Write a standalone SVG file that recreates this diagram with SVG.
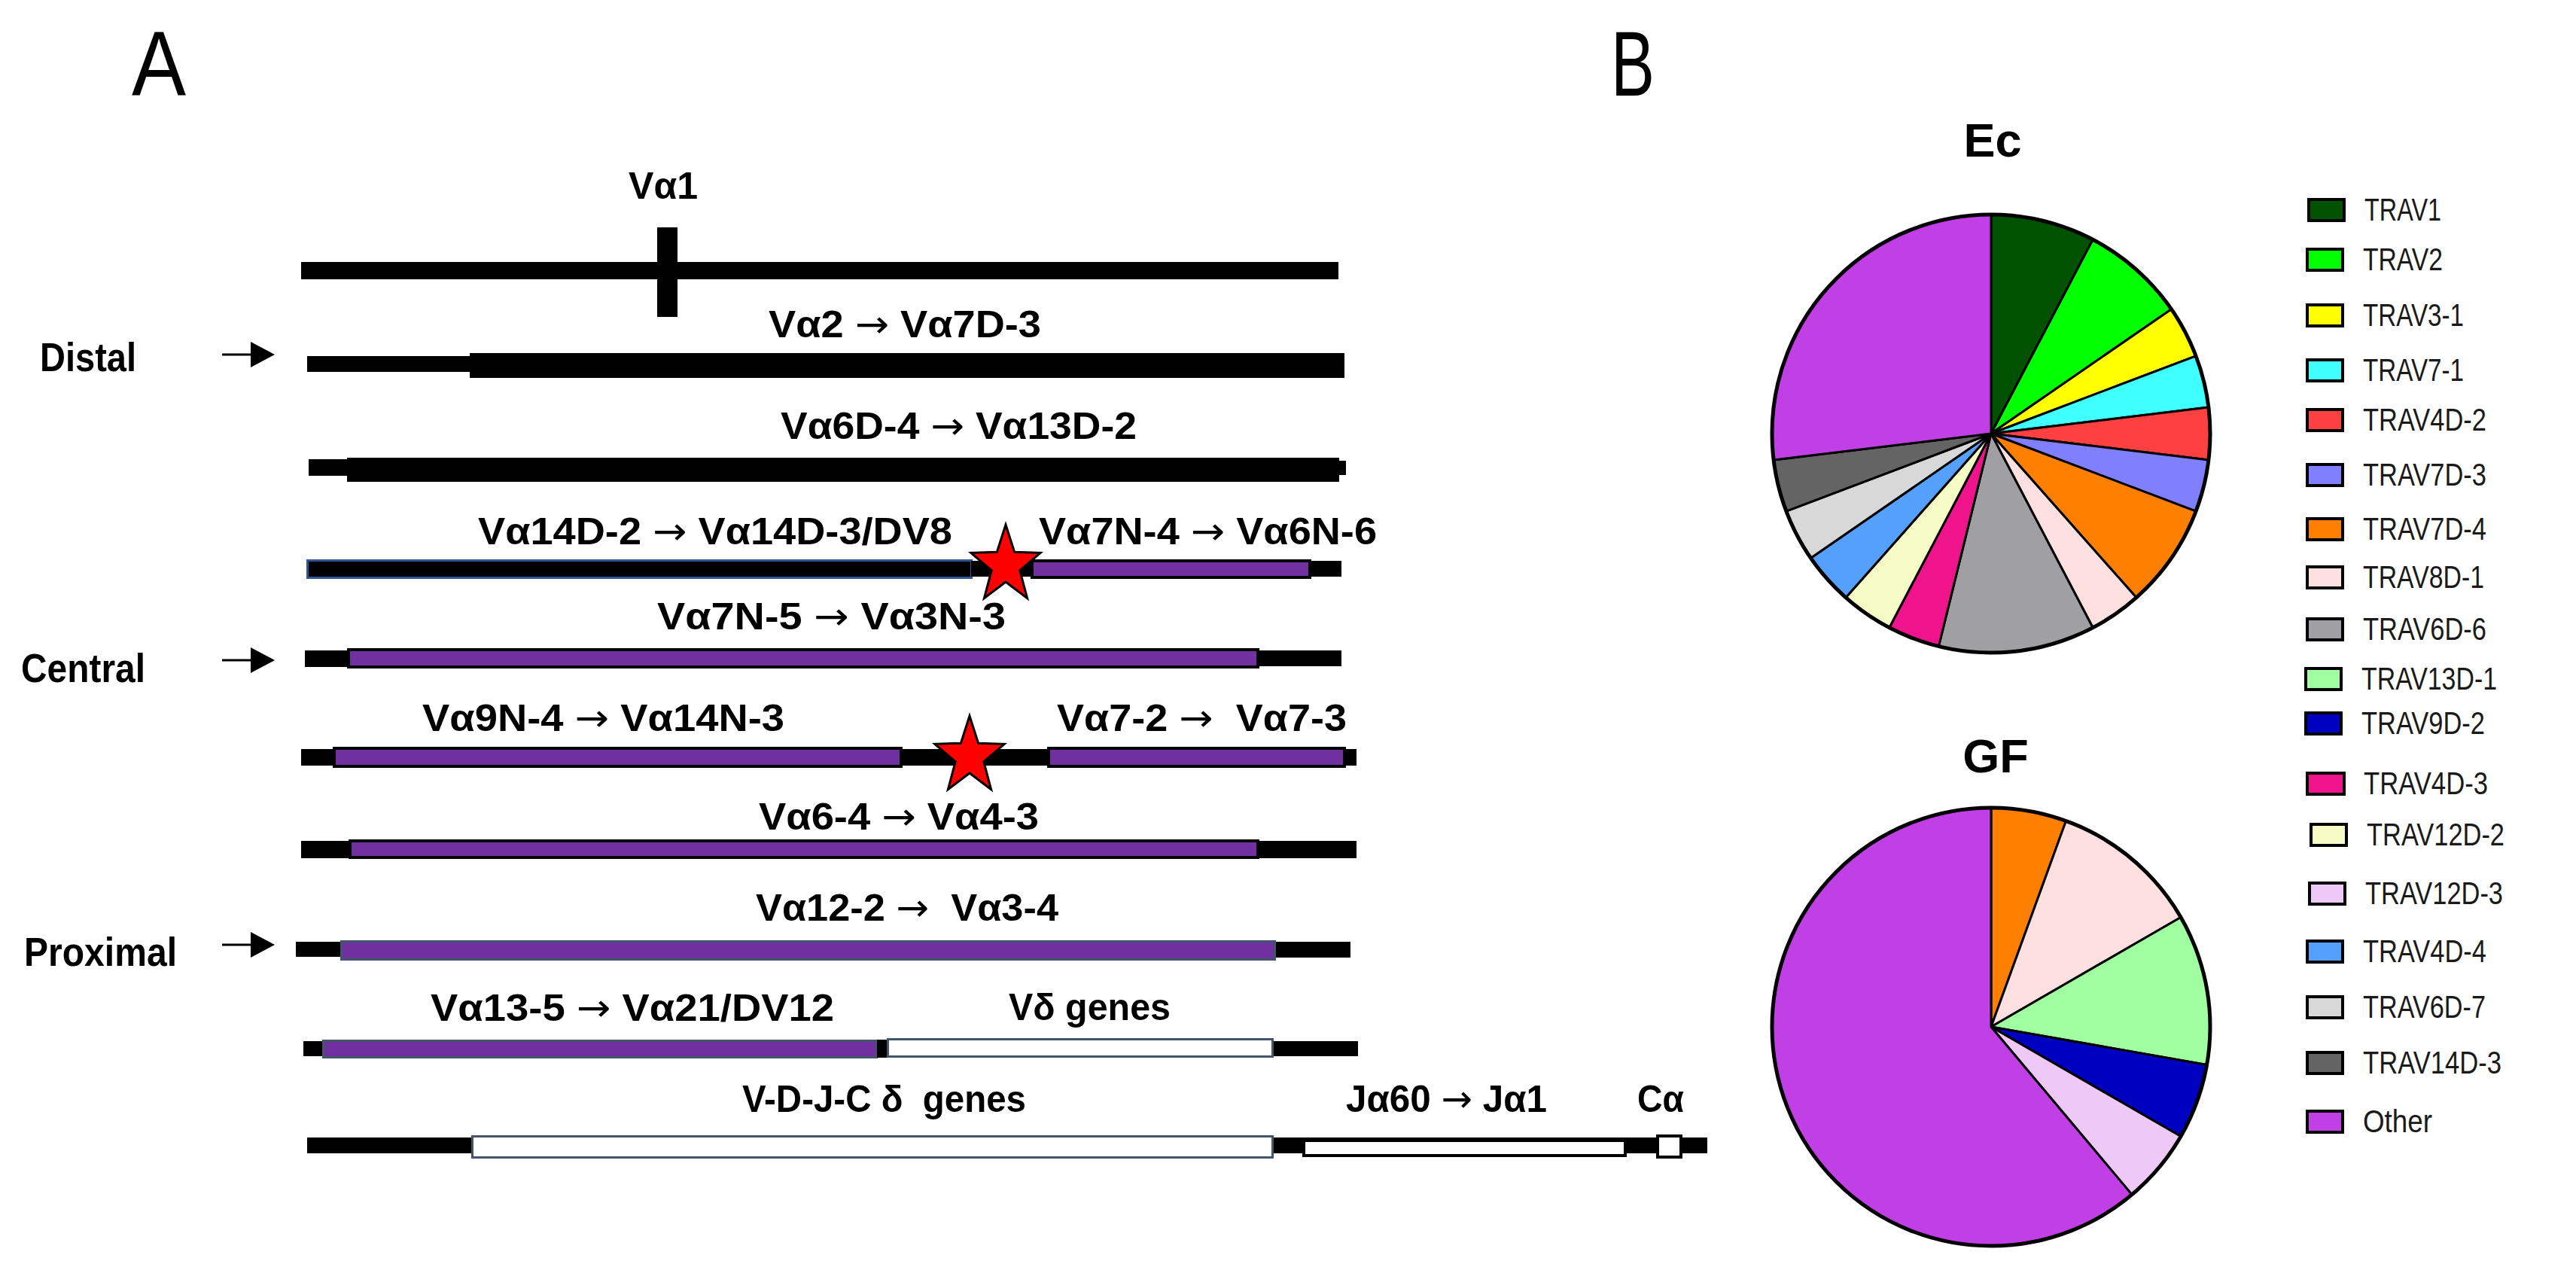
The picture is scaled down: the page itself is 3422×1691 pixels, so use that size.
<svg xmlns="http://www.w3.org/2000/svg" width="3422" height="1691" viewBox="0 0 3422 1691">
<style>
.lbl{font-family:"Liberation Sans",Arial,sans-serif;font-weight:bold;font-size:50px;fill:#000}
.ar{font-family:"DejaVu Sans",sans-serif;font-weight:normal}
.side{font-family:"Liberation Sans",Arial,sans-serif;font-weight:bold;font-size:53px;fill:#000}
.panel{font-family:"Liberation Sans",Arial,sans-serif;font-size:122px;fill:#000}
.ttl{font-family:"Liberation Sans",Arial,sans-serif;font-weight:bold;font-size:63px;fill:#000;text-anchor:middle}
.leg{font-family:"Liberation Sans",Arial,sans-serif;font-size:43px;fill:#1a1a1a}
.blk{fill:#000}
.pur{fill:#7030A0;stroke:#000;stroke-width:4}
.pur2{fill:#7030A0;stroke:#44546A;stroke-width:3}
.wht{fill:#fff;stroke:#44546A;stroke-width:3}
.whk{fill:#fff;stroke:#000;stroke-width:4}
.star{fill:#FF0000;stroke:#000;stroke-width:3;stroke-linejoin:miter}
.sl{stroke:#000;stroke-width:3;stroke-linejoin:round}
.lb{stroke:#000;stroke-width:4}
</style>
<defs>
<path id="starShape" d="M0,-54 L11.6,-17.8 L46.2,-16.7 L18.8,6.8 L28.6,43.7 L0,22 L-28.6,43.7 L-18.8,6.8 L-46.2,-16.7 L-11.6,-17.8 Z"/>
<marker id="ah" markerUnits="userSpaceOnUse" markerWidth="32" markerHeight="34" refX="2" refY="17" orient="auto">
<path d="M0,0 L32,17 L0,34 Z" fill="#000"/>
</marker>
</defs>
<rect x="0" y="0" width="3422" height="1691" fill="#fff"/>

<text class="panel" x="175" y="127" textLength="72" lengthAdjust="spacingAndGlyphs">A</text>
<text class="panel" x="2140" y="127" textLength="58" lengthAdjust="spacingAndGlyphs">B</text>

<g id="side-labels">
<text class="side" x="53" y="493" textLength="128" lengthAdjust="spacingAndGlyphs">Distal</text>
<text class="side" x="28" y="906" textLength="165" lengthAdjust="spacingAndGlyphs">Central</text>
<text class="side" x="32" y="1283" textLength="203" lengthAdjust="spacingAndGlyphs">Proximal</text>
</g>

<g id="connectors">
<line x1="295" y1="471" x2="335" y2="471" stroke="#000" stroke-width="3" marker-end="url(#ah)"/>
<line x1="295" y1="877" x2="335" y2="877" stroke="#000" stroke-width="3" marker-end="url(#ah)"/>
<line x1="295" y1="1255" x2="335" y2="1255" stroke="#000" stroke-width="3" marker-end="url(#ah)"/>
</g>

<g id="row1">
<rect class="blk" x="400" y="348" width="1378" height="23"/>
<rect class="blk" x="873" y="302" width="27" height="119"/>
<text class="lbl" x="835" y="264" textLength="92" lengthAdjust="spacingAndGlyphs">Vα1</text>
</g>

<g id="row2">
<rect class="blk" x="408" y="473" width="216" height="21"/>
<rect class="blk" x="624" y="469" width="1162" height="33"/>
<text class="lbl" x="1021" y="448" textLength="362" lengthAdjust="spacingAndGlyphs">Vα2 <tspan class="ar">→</tspan> Vα7D-3</text>
</g>

<g id="row3">
<rect class="blk" x="410" y="610" width="51" height="22"/>
<rect class="blk" x="461" y="608" width="1318" height="32"/>
<rect class="blk" x="1779" y="612" width="9" height="19"/>
<text class="lbl" x="1037" y="583" textLength="473" lengthAdjust="spacingAndGlyphs">Vα6D-4 <tspan class="ar">→</tspan> Vα13D-2</text>
</g>

<g id="row4">
<rect x="408.5" y="744.5" width="882" height="23" fill="#000" stroke="#2F5597" stroke-width="3"/>
<rect class="blk" x="1290" y="745" width="82" height="21"/>
<rect class="pur" x="1371" y="745" width="369" height="22"/>
<rect class="blk" x="1740" y="745" width="42" height="21"/>
<use href="#starShape" class="star" transform="translate(1336,751)"/>
<text class="lbl" x="635" y="723" textLength="630" lengthAdjust="spacingAndGlyphs">Vα14D-2 <tspan class="ar">→</tspan> Vα14D-3/DV8</text>
<text class="lbl" x="1380" y="723" textLength="449" lengthAdjust="spacingAndGlyphs">Vα7N-4 <tspan class="ar">→</tspan> Vα6N-6</text>
</g>

<g id="row5">
<rect class="blk" x="405" y="864" width="58" height="22"/>
<rect class="pur" x="463" y="863" width="1208" height="23"/>
<rect class="blk" x="1671" y="864" width="111" height="21"/>
<text class="lbl" x="873" y="836" textLength="463" lengthAdjust="spacingAndGlyphs">Vα7N-5 <tspan class="ar">→</tspan> Vα3N-3</text>
</g>

<g id="row6">
<rect class="blk" x="400" y="995" width="44" height="22"/>
<rect class="pur" x="444" y="994" width="753" height="24"/>
<rect class="blk" x="1197" y="995" width="196" height="22"/>
<rect class="pur" x="1393" y="994" width="393" height="24"/>
<rect class="blk" x="1786" y="995" width="16" height="22"/>
<use href="#starShape" class="star" transform="translate(1288,1005)"/>
<text class="lbl" x="561" y="971" textLength="481" lengthAdjust="spacingAndGlyphs">Vα9N-4 <tspan class="ar">→</tspan> Vα14N-3</text>
<text class="lbl" x="1404" y="971" textLength="385" lengthAdjust="spacingAndGlyphs" xml:space="preserve">Vα7-2 <tspan class="ar">→</tspan>  Vα7-3</text>
</g>

<g id="row7">
<rect class="blk" x="400" y="1117" width="65" height="23"/>
<rect class="pur" x="465" y="1117" width="1206" height="22"/>
<rect class="blk" x="1671" y="1117" width="131" height="23"/>
<text class="lbl" x="1008" y="1102" textLength="372" lengthAdjust="spacingAndGlyphs">Vα6-4 <tspan class="ar">→</tspan> Vα4-3</text>
</g>

<g id="row8">
<rect class="blk" x="393" y="1251" width="61" height="20"/>
<rect class="pur2" x="453.5" y="1250.5" width="1240" height="24"/>
<rect class="blk" x="1695" y="1251" width="99" height="21"/>
<text class="lbl" x="1004" y="1223" textLength="402" lengthAdjust="spacingAndGlyphs" xml:space="preserve">Vα12-2 <tspan class="ar">→</tspan>  Vα3-4</text>
</g>

<g id="row9">
<rect class="blk" x="403" y="1383" width="27" height="20"/>
<rect class="pur2" x="429.5" y="1382.5" width="735" height="22"/>
<rect class="blk" x="1165" y="1381" width="13" height="24"/>
<rect class="wht" x="1179.5" y="1380.5" width="511" height="23"/>
<rect class="blk" x="1692" y="1383" width="112" height="20"/>
<text class="lbl" x="572" y="1356" textLength="536" lengthAdjust="spacingAndGlyphs">Vα13-5 <tspan class="ar">→</tspan> Vα21/DV12</text>
<text class="lbl" x="1340" y="1355" textLength="215" lengthAdjust="spacingAndGlyphs">Vδ genes</text>
</g>

<g id="row10">
<rect class="blk" x="408" y="1511" width="220" height="21"/>
<rect class="wht" x="627.5" y="1509.5" width="1063" height="28"/>
<rect class="blk" x="1692" y="1511" width="576" height="21"/>
<rect class="whk" x="1732" y="1515" width="427" height="20"/>
<rect class="whk" x="2202" y="1509" width="31" height="28"/>
<text class="lbl" x="986" y="1477" textLength="377" lengthAdjust="spacingAndGlyphs" xml:space="preserve">V-D-J-C δ  genes</text>
<text class="lbl" x="1788" y="1477" textLength="267" lengthAdjust="spacingAndGlyphs">Jα60 <tspan class="ar">→</tspan> Jα1</text>
<text class="lbl" x="2175" y="1477" textLength="62" lengthAdjust="spacingAndGlyphs">Cα</text>
</g>

<g id="pie-ec">
<text class="ttl" x="2647" y="208">Ec</text>
<path class="sl" fill="#005200" d="M2645,576 L2645,285 A291,291 0 0 1 2780.2,318.3 Z"/>
<path class="sl" fill="#00FF00" d="M2645,576 L2780.2,318.3 A291,291 0 0 1 2884.5,410.7 Z"/>
<path class="sl" fill="#FFFF00" d="M2645,576 L2884.5,410.7 A291,291 0 0 1 2917.1,472.8 Z"/>
<path class="sl" fill="#40FFFF" d="M2645,576 L2917.1,472.8 A291,291 0 0 1 2933.9,540.9 Z"/>
<path class="sl" fill="#FF4040" d="M2645,576 L2933.9,540.9 A291,291 0 0 1 2933.9,611.1 Z"/>
<path class="sl" fill="#8080FF" d="M2645,576 L2933.9,611.1 A291,291 0 0 1 2917.1,679.2 Z"/>
<path class="sl" fill="#FF8000" d="M2645,576 L2917.1,679.2 A291,291 0 0 1 2838.0,793.8 Z"/>
<path class="sl" fill="#FFE0E0" d="M2645,576 L2838.0,793.8 A291,291 0 0 1 2780.2,833.7 Z"/>
<path class="sl" fill="#A0A0A4" d="M2645,576 L2780.2,833.7 A291,291 0 0 1 2575.4,858.5 Z"/>
<path class="sl" fill="#F0148C" d="M2645,576 L2575.4,858.5 A291,291 0 0 1 2509.8,833.7 Z"/>
<path class="sl" fill="#F6FCC6" d="M2645,576 L2509.8,833.7 A291,291 0 0 1 2452.0,793.8 Z"/>
<path class="sl" fill="#55A0FA" d="M2645,576 L2452.0,793.8 A291,291 0 0 1 2405.5,741.3 Z"/>
<path class="sl" fill="#D8D8D8" d="M2645,576 L2405.5,741.3 A291,291 0 0 1 2372.9,679.2 Z"/>
<path class="sl" fill="#646464" d="M2645,576 L2372.9,679.2 A291,291 0 0 1 2356.1,611.1 Z"/>
<path class="sl" fill="#C040E6" d="M2645,576 L2356.1,611.1 A291,291 0 0 1 2645,285 Z"/>
<circle cx="2645" cy="576" r="291" fill="none" stroke="#000" stroke-width="5"/>
</g>

<g id="pie-gf">
<text class="ttl" x="2651" y="1026">GF</text>
<path class="sl" fill="#FF8000" d="M2645,1364 L2645,1073 A291,291 0 0 1 2744.5,1090.5 Z"/>
<path class="sl" fill="#FFE0E0" d="M2645,1364 L2744.5,1090.5 A291,291 0 0 1 2897.0,1218.5 Z"/>
<path class="sl" fill="#A0FFA0" d="M2645,1364 L2897.0,1218.5 A291,291 0 0 1 2931.6,1414.5 Z"/>
<path class="sl" fill="#0000C0" d="M2645,1364 L2931.6,1414.5 A291,291 0 0 1 2897.0,1509.5 Z"/>
<path class="sl" fill="#EEC8F6" d="M2645,1364 L2897.0,1509.5 A291,291 0 0 1 2832.1,1586.9 Z"/>
<path class="sl" fill="#C040E6" d="M2645,1364 L2832.1,1586.9 A291,291 0 1 1 2645,1073 Z"/>
<circle cx="2645" cy="1364" r="291" fill="none" stroke="#000" stroke-width="5"/>
</g>

<g id="legend">
<rect class="lb" fill="#005200" x="3067" y="265" width="47" height="28"/>
<text class="leg" x="3141" y="293" textLength="102" lengthAdjust="spacingAndGlyphs">TRAV1</text>
<rect class="lb" fill="#00FF00" x="3065" y="331" width="47" height="28"/>
<text class="leg" x="3139" y="359" textLength="106" lengthAdjust="spacingAndGlyphs">TRAV2</text>
<rect class="lb" fill="#FFFF00" x="3065" y="405" width="47" height="28"/>
<text class="leg" x="3139" y="433" textLength="134" lengthAdjust="spacingAndGlyphs">TRAV3-1</text>
<rect class="lb" fill="#40FFFF" x="3065" y="478" width="47" height="28"/>
<text class="leg" x="3139" y="506" textLength="134" lengthAdjust="spacingAndGlyphs">TRAV7-1</text>
<rect class="lb" fill="#FF4040" x="3065" y="544" width="47" height="28"/>
<text class="leg" x="3139" y="572" textLength="164" lengthAdjust="spacingAndGlyphs">TRAV4D-2</text>
<rect class="lb" fill="#8080FF" x="3065" y="617" width="47" height="28"/>
<text class="leg" x="3139" y="645" textLength="164" lengthAdjust="spacingAndGlyphs">TRAV7D-3</text>
<rect class="lb" fill="#FF8000" x="3065" y="689" width="47" height="28"/>
<text class="leg" x="3139" y="717" textLength="164" lengthAdjust="spacingAndGlyphs">TRAV7D-4</text>
<rect class="lb" fill="#FFE0E0" x="3065" y="753" width="47" height="28"/>
<text class="leg" x="3139" y="781" textLength="161" lengthAdjust="spacingAndGlyphs">TRAV8D-1</text>
<rect class="lb" fill="#A0A0A4" x="3065" y="822" width="47" height="28"/>
<text class="leg" x="3139" y="850" textLength="164" lengthAdjust="spacingAndGlyphs">TRAV6D-6</text>
<rect class="lb" fill="#A0FFA0" x="3063" y="888" width="47" height="28"/>
<text class="leg" x="3137" y="916" textLength="180" lengthAdjust="spacingAndGlyphs">TRAV13D-1</text>
<rect class="lb" fill="#0000C0" x="3063" y="947" width="47" height="28"/>
<text class="leg" x="3137" y="975" textLength="164" lengthAdjust="spacingAndGlyphs">TRAV9D-2</text>
<rect class="lb" fill="#F0148C" x="3065" y="1027" width="49" height="28"/>
<text class="leg" x="3140" y="1055" textLength="165" lengthAdjust="spacingAndGlyphs">TRAV4D-3</text>
<rect class="lb" fill="#F6FCC6" x="3070" y="1095" width="47" height="28"/>
<text class="leg" x="3144" y="1123" textLength="183" lengthAdjust="spacingAndGlyphs">TRAV12D-2</text>
<rect class="lb" fill="#EEC8F6" x="3068" y="1173" width="47" height="28"/>
<text class="leg" x="3142" y="1201" textLength="183" lengthAdjust="spacingAndGlyphs">TRAV12D-3</text>
<rect class="lb" fill="#55A0FA" x="3065" y="1250" width="47" height="28"/>
<text class="leg" x="3139" y="1278" textLength="164" lengthAdjust="spacingAndGlyphs">TRAV4D-4</text>
<rect class="lb" fill="#D8D8D8" x="3065" y="1324" width="47" height="28"/>
<text class="leg" x="3139" y="1352" textLength="163" lengthAdjust="spacingAndGlyphs">TRAV6D-7</text>
<rect class="lb" fill="#646464" x="3065" y="1398" width="47" height="28"/>
<text class="leg" x="3139" y="1426" textLength="184" lengthAdjust="spacingAndGlyphs">TRAV14D-3</text>
<rect class="lb" fill="#C040E6" x="3065" y="1476" width="47" height="28"/>
<text class="leg" x="3139" y="1504" textLength="92" lengthAdjust="spacingAndGlyphs">Other</text>
</g>
</svg>
